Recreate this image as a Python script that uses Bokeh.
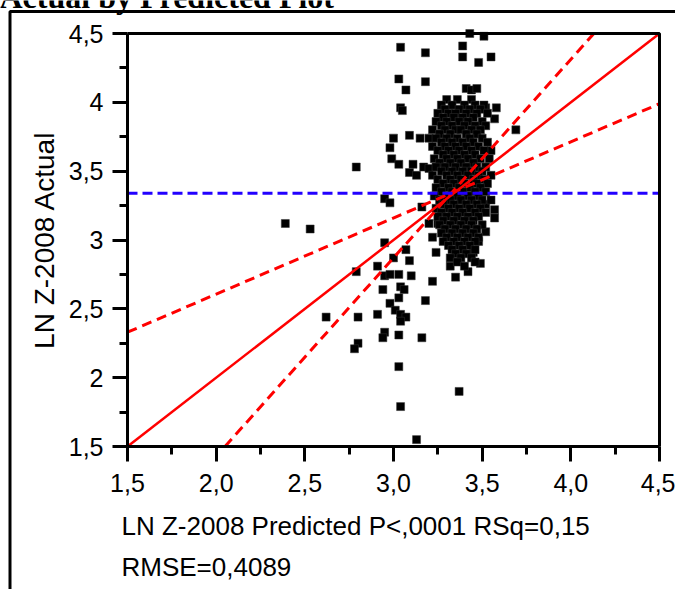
from bokeh.plotting import figure
from bokeh.models import FixedTicker
from bokeh.core.properties import value
from bokeh.embed import file_html
from bokeh.resources import INLINE

# ---------------- data ----------------
# scattered points outside the dense core (predicted, actual)
outer_x = [2.39, 2.53, 2.62, 2.79, 2.79, 2.80, 2.80, 2.78, 2.91, 2.95, 3.00, 3.07, 3.09, 2.95,
           2.98, 3.03, 3.10, 2.94, 3.04, 3.06, 3.03, 2.98, 3.18, 3.22, 2.91, 3.01, 3.04, 3.07,
           3.04, 2.95, 2.94, 3.03, 3.16, 3.03, 3.37, 3.04, 3.13, 3.24, 3.22, 3.20, 3.25, 3.35,
           3.42, 3.32, 3.49, 3.45, 3.57, 3.57, 3.52, 3.52, 3.48, 3.16, 2.95, 2.98]
outer_y = [3.12, 3.08, 2.44, 3.53, 2.77, 2.44, 2.25, 2.21, 2.81, 2.98, 2.87, 2.93, 2.85, 2.74,
           2.75, 2.75, 2.74, 2.64, 2.66, 2.64, 2.58, 2.54, 2.56, 2.70, 2.46, 2.49, 2.46, 2.44,
           2.41, 2.33, 2.29, 2.31, 2.29, 2.08, 1.90, 1.79, 1.55, 2.91, 3.02, 3.12, 3.12, 2.73,
           2.77, 2.81, 2.83, 2.91, 3.22, 3.16, 3.06, 3.26, 2.99, 3.24, 3.30, 3.27]

upper_x = [3.04, 3.18, 3.43, 3.51, 3.39, 3.39, 3.48, 3.55, 3.03, 3.18, 3.07, 3.41, 3.44, 3.47,
           3.04, 3.05, 3.69, 3.00, 3.09, 2.98, 2.99, 3.03, 3.11, 3.09, 3.13, 3.15, 3.20, 3.17,
           3.20, 3.55, 3.57, 3.58, 3.52]
upper_y = [4.40, 4.36, 4.50, 4.48, 4.41, 4.33, 4.29, 4.33, 4.17, 4.15, 4.09, 4.10, 4.09, 4.10,
           3.96, 3.94, 3.80, 3.74, 3.76, 3.67, 3.59, 3.55, 3.55, 3.49, 3.47, 3.74, 3.74, 3.53,
           3.52, 3.65, 3.88, 3.96, 3.96]

# dense core, one row of predicted values per actual level
core_levels = [4.02, 3.98, 3.95, 3.92, 3.89, 3.86, 3.83, 3.80, 3.77, 3.74, 3.71, 3.68, 3.65,
               3.62, 3.59, 3.56, 3.53, 3.50, 3.47, 3.44, 3.41, 3.38, 3.35, 3.32, 3.29, 3.26,
               3.23, 3.20, 3.17, 3.14, 3.11, 3.08, 3.05, 3.02, 2.99, 2.96, 2.93, 2.90, 2.87,
               2.84, 2.81]
core_rows = [
    [3.30, 3.36, 3.44],
    [3.27, 3.33, 3.40, 3.46, 3.51],
    [3.29, 3.37, 3.43, 3.49],
    [3.25, 3.31, 3.35, 3.41, 3.47, 3.53],
    [3.28, 3.34, 3.39, 3.45],
    [3.24, 3.30, 3.37, 3.42, 3.50],
    [3.27, 3.33, 3.40, 3.46, 3.52],
    [3.22, 3.29, 3.35, 3.38, 3.44, 3.49],
    [3.26, 3.32, 3.41, 3.47],
    [3.24, 3.30, 3.36, 3.43, 3.50],
    [3.27, 3.33, 3.39, 3.45, 3.53],
    [3.22, 3.29, 3.35, 3.41, 3.48],
    [3.25, 3.31, 3.37, 3.44, 3.51],
    [3.28, 3.34, 3.40, 3.46],
    [3.23, 3.30, 3.36, 3.42, 3.49, 3.54],
    [3.26, 3.32, 3.38, 3.45],
    [3.24, 3.29, 3.35, 3.41, 3.47, 3.52],
    [3.27, 3.33, 3.39, 3.44, 3.50],
    [3.22, 3.30, 3.36, 3.42, 3.48, 3.55],
    [3.25, 3.32, 3.38, 3.45, 3.51],
    [3.28, 3.34, 3.40, 3.47, 3.53],
    [3.24, 3.31, 3.37, 3.43, 3.49],
    [3.27, 3.33, 3.39, 3.46, 3.52],
    [3.23, 3.30, 3.36, 3.42, 3.48],
    [3.26, 3.32, 3.38, 3.44, 3.50, 3.55],
    [3.28, 3.34, 3.41, 3.47],
    [3.24, 3.31, 3.37, 3.43, 3.49],
    [3.27, 3.33, 3.39, 3.46, 3.52],
    [3.25, 3.30, 3.36, 3.42, 3.48],
    [3.28, 3.34, 3.40, 3.45],
    [3.26, 3.32, 3.38, 3.44, 3.50],
    [3.29, 3.35, 3.41, 3.47],
    [3.27, 3.33, 3.39, 3.45],
    [3.30, 3.36, 3.42, 3.48],
    [3.28, 3.34, 3.40, 3.46],
    [3.31, 3.37, 3.43],
    [3.33, 3.39, 3.46],
    [3.35, 3.41],
    [3.32, 3.38, 3.44],
    [3.36, 3.46],
    [3.40],
]

fit_x = [1.5, 4.5]
fit_y = [1.5, 4.5]
conf_a_x = [1.5, 4.5]
conf_a_y = [2.33, 3.99]
conf_b_x = [2.05, 4.13]
conf_b_y = [1.5, 4.5]
mean_actual = 3.34

x_ticks = [1.5, 2.0, 2.5, 3.0, 3.5, 4.0, 4.5]
x_tick_labels = ["1,5", "2,0", "2,5", "3,0", "3,5", "4,0", "4,5"]
x_minor = [1.75, 2.25, 2.75, 3.25, 3.75, 4.25]
y_ticks = [1.5, 2.0, 2.5, 3.0, 3.5, 4.0, 4.5]
y_tick_labels = ["1,5", "2", "2,5", "3", "3,5", "4", "4,5"]
y_minor = [1.75, 2.25, 2.75, 3.25, 3.75, 4.25]

title_text = "Actual by Predicted Plot"
x_label_1 = "LN Z-2008 Predicted P<,0001 RSq=0,15"
x_label_2 = "RMSE=0,4089"
y_label = "LN Z-2008 Actual"

# ---------------- assemble ----------------
pred_x = outer_x + upper_x
actual_y = outer_y + upper_y
for lvl, row in zip(core_levels, core_rows):
    for xv in row:
        pred_x.append(xv)
        actual_y.append(lvl)

XMIN, XMAX, YMIN, YMAX = 1.5, 4.5, 1.5, 4.5
W, H = 675, 589
# plotting box inside the canvas (pixels)
PL, PR, PT, PB = 127, 659, 33, 446
sx = (XMAX - XMIN) / (PR - PL)
sy = (YMAX - YMIN) / (PB - PT)


def dx(cx):
    return XMIN + (cx - PL) * sx


def dy(cy):
    return YMAX - (cy - PT) * sy


p = figure(width=W, height=H,
           x_range=(dx(0), dx(W)), y_range=(dy(H), dy(0)),
           output_backend="svg", toolbar_location=None,
           min_border=0, min_border_left=0, min_border_right=0,
           min_border_top=0, min_border_bottom=0)
p.title.visible = False
p.grid.visible = False
p.background_fill_color = "white"
p.border_fill_color = "white"
p.outline_line_color = None

FONT = "Liberation Sans"

for ax, ticks, labels, minor in ((p.xaxis[0], x_ticks, x_tick_labels, x_minor),
                                 (p.yaxis[0], y_ticks, y_tick_labels, y_minor)):
    ax.fixed_location = 1.5
    ax.bounds = (1.5, 4.5)
    ax.ticker = FixedTicker(ticks=ticks, minor_ticks=minor)
    ax.major_label_overrides = {t: l for t, l in zip(ticks, labels)}
    ax.axis_line_width = 3
    ax.axis_line_color = "black"
    ax.major_tick_line_width = 3
    ax.minor_tick_line_width = 3
    ax.major_tick_line_color = "black"
    ax.minor_tick_line_color = "black"
    ax.major_tick_in = 0
    ax.minor_tick_in = 0
    ax.major_tick_out = 15
    ax.minor_tick_out = 8
    ax.major_label_text_font = FONT
    ax.major_label_text_font_size = "25px"
    ax.major_label_text_color = "black"

p.xaxis.major_label_standoff = 12
p.yaxis.major_label_standoff = 9
p.yaxis.axis_label = y_label
p.yaxis.axis_label_text_font = FONT
p.yaxis.axis_label_text_font_size = "28px"
p.yaxis.axis_label_text_font_style = "normal"
p.yaxis.axis_label_text_color = "black"
p.yaxis.axis_label_standoff = 6

# data points
p.scatter(pred_x, actual_y, marker="square", size=8, fill_color="black",
          line_color="#333333", line_width=0.5)

# fit, confidence curves and mean line
p.line(fit_x, fit_y, line_color="#ff0000", line_width=2.5)
p.line(conf_a_x, conf_a_y, line_color="#ff0000", line_width=3, line_dash="10 6")
p.line(conf_b_x, conf_b_y, line_color="#ff0000", line_width=3, line_dash="10 6")
p.line([XMIN, XMAX], [mean_actual, mean_actual], line_color="#2200ff", line_width=3,
       line_dash="10 5")

# top and right edges of the plotting box
p.line([XMIN, XMAX, XMAX], [YMAX, YMAX, YMIN], line_color="black", line_width=3)

# outer report frame (left and top edges)
p.line([dx(9.5), dx(9.5), dx(W + 20)], [dy(H + 20), dy(11), dy(11)],
       line_color="black", line_width=3)

# report title (cut at the top edge) and x-axis caption lines
p.text(x=[dx(-1)], y=[dy(-4)], text=[title_text], text_font=value("Liberation Serif"),
       text_font_style="bold", text_font_size=value("32px"), text_baseline="alphabetic",
       text_align="left", text_color="black")
p.text(x=[dx(121), dx(121)], y=[dy(525), dy(566)], text=[x_label_1, x_label_2],
       text_font=value(FONT), text_font_size=value("26px"), text_baseline="alphabetic",
       text_align="left", text_color="black")

open("out.html", "w").write(file_html(p, INLINE))
